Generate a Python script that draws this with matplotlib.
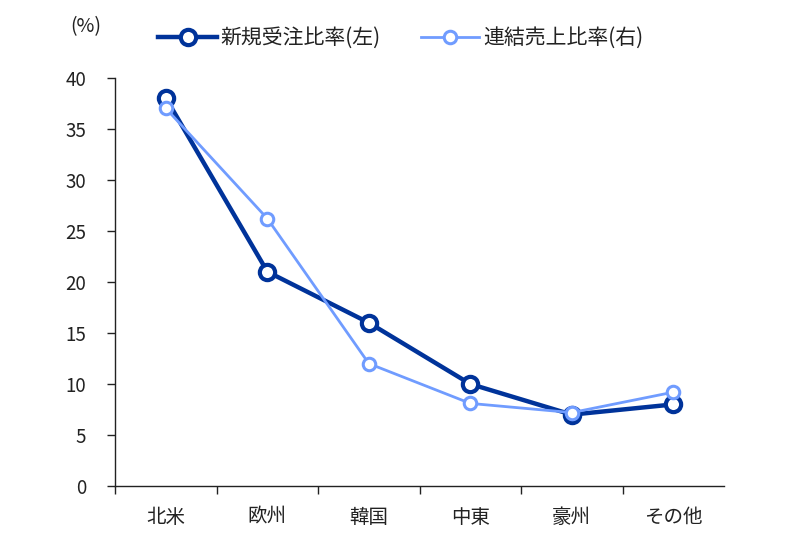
import matplotlib
matplotlib.use("Agg")
import matplotlib.pyplot as plt
from matplotlib.ticker import FixedLocator, NullFormatter

plt.rcParams['font.family'] = ['Noto Sans CJK JP', 'DejaVu Sans']

categories = ["北米", "欧州", "韓国", "中東", "豪州", "その他"]
orders = [38, 21, 16, 10, 7, 8]
sales = [37, 26.2, 12, 8.1, 7.2, 9.2]
series_names = ["新規受注比率(左)", "連結売上比率(右)"]
yticks = [0, 5, 10, 15, 20, 25, 30, 35, 40]

dark = "#00339A"
light = "#709CFF"
txt = "#222222"

fig = plt.figure(figsize=(8, 5.48), dpi=100)
ax = fig.add_axes([0.144, 0.113, 0.761, 0.745])

x = list(range(len(categories)))
ax.plot(x, orders, color=dark, lw=3.2, marker='o', ms=11, mfc='white', mec=dark, mew=3, label=series_names[0], zorder=3)
ax.plot(x, sales, color=light, lw=2.0, marker='o', ms=9, mfc='white', mec=light, mew=2.2, label=series_names[1], zorder=4)

ax.set_xlim(-0.5, 5.5)
ax.set_ylim(0, 40)
ax.set_yticks(yticks)
ax.set_xticks(x)
ax.set_xticklabels(categories)
ax.xaxis.set_minor_locator(FixedLocator([i - 0.5 for i in range(len(categories))]))
ax.xaxis.set_minor_formatter(NullFormatter())
ax.tick_params(axis='x', which='major', length=0, pad=15, labelsize=14, colors=txt)
ax.tick_params(axis='x', which='minor', length=6, width=1, direction='out', color=txt)
ax.tick_params(axis='y', length=6, width=1, direction='out', labelsize=13.5, pad=15, colors=txt)
for s in ['top', 'right']:
    ax.spines[s].set_visible(False)
for s in ['left', 'bottom']:
    ax.spines[s].set_color(txt)
    ax.spines[s].set_linewidth(1)

fig.text(0.088, 0.951, "(%)", fontsize=14, ha='left', va='center', color=txt)
leg = fig.legend(loc='center', bbox_to_anchor=(0.501, 0.931), ncol=2, frameon=False, fontsize=15,
                 handlelength=2.8, columnspacing=1.9, handletextpad=0.2)
for t in leg.get_texts():
    t.set_color(txt)

fig.savefig("out.png", dpi=100)
